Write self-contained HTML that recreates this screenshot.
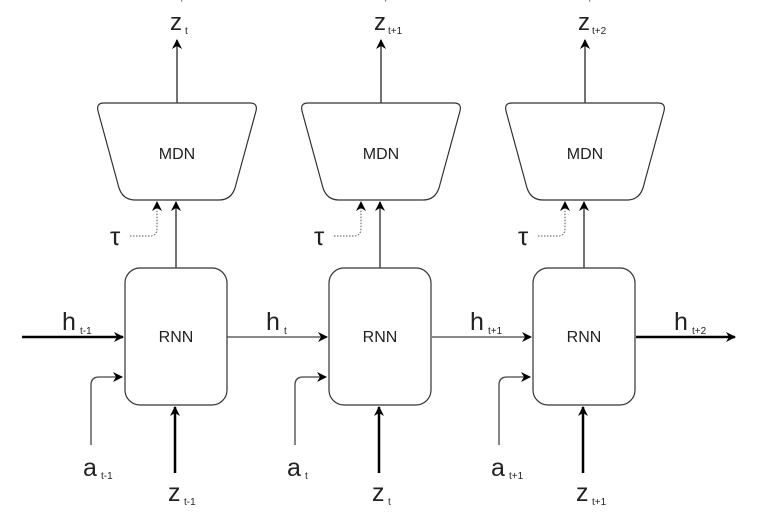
<!DOCTYPE html>
<html><head><style>body{margin:0;background:#fff}svg{display:block}text{font-family:"Liberation Sans",sans-serif;fill:#222}</style></head>
<body>
<svg width="758" height="519" viewBox="0 0 758 519" xmlns="http://www.w3.org/2000/svg">
<defs>
<marker id="ar" markerWidth="10" markerHeight="10" refX="9" refY="5" orient="auto" markerUnits="userSpaceOnUse">
<path d="M0,0 L10,5 L0,10 L3,5 Z" fill="#000"/></marker>
</defs>
<g id="c">
<path d="M104,103 L250,103 Q258,103 256,111 L235,188 Q231,200 219,200 L135,200 Q123,200 119,188 L98,111 Q96,103 104,103 Z" fill="#fff" stroke="#333" stroke-width="1.2"/>
<text x="177" y="159" font-size="16" text-anchor="middle">MDN</text>
<line x1="177" y1="103" x2="177" y2="40" stroke="#444" stroke-width="1.5" marker-end="url(#ar)"/>
<text x="170" y="30" font-size="24">z</text><text x="185" y="34" font-size="10">t</text><text x="181" y="6" font-size="8">'</text>
<rect x="125" y="268" width="102" height="137" rx="15" fill="#fff" stroke="#333" stroke-width="1.2"/>
<text x="176" y="342" font-size="16" text-anchor="middle">RNN</text>
<line x1="176" y1="268" x2="176" y2="202" stroke="#444" stroke-width="1.5" marker-end="url(#ar)"/>
<path d="M130,236 L150,236 Q157,236 157,228 L157,202" fill="none" stroke="#555" stroke-dasharray="1.5,1.5" marker-end="url(#ar)"/>
<text x="110" y="245" font-size="26">τ</text>
<path d="M91,445 L91,385 Q91,377 99,377 L122,377" fill="none" stroke="#444" stroke-width="1.3" marker-end="url(#ar)"/>
<line x1="175" y1="473" x2="175" y2="407" stroke="#000" stroke-width="2.5" marker-end="url(#ar)"/>
</g>
<use href="#c" x="204"/>
<use href="#c" x="408"/>
<line x1="22" y1="337" x2="123" y2="337" stroke="#000" stroke-width="2.5" marker-end="url(#ar)"/>
<line x1="227" y1="337" x2="327" y2="337" stroke="#444" stroke-width="1.3" marker-end="url(#ar)"/>
<line x1="432" y1="337" x2="531" y2="337" stroke="#444" stroke-width="1.3" marker-end="url(#ar)"/>
<line x1="636" y1="337" x2="735" y2="337" stroke="#000" stroke-width="2.5" marker-end="url(#ar)"/>
<rect x="387" y="22" width="30" height="16" fill="#fff"/><text x="388" y="34" font-size="10">t+1</text>
<rect x="591" y="22" width="30" height="16" fill="#fff"/><text x="592" y="34" font-size="10">t+2</text>
<text x="62" y="330" font-size="25">h</text><text x="80" y="334" font-size="10">t-1</text>
<text x="266" y="330" font-size="25">h</text><text x="284" y="334" font-size="10">t</text>
<text x="470" y="330" font-size="25">h</text><text x="488" y="334" font-size="10">t+1</text>
<text x="674" y="330" font-size="25">h</text><text x="692" y="334" font-size="10">t+2</text>
<text x="83" y="476" font-size="25">a</text><text x="101" y="479" font-size="10">t-1</text>
<text x="287" y="476" font-size="25">a</text><text x="305" y="479" font-size="10">t</text>
<text x="491" y="476" font-size="25">a</text><text x="509" y="479" font-size="10">t+1</text>
<text x="168" y="501" font-size="25">z</text><text x="184" y="505" font-size="10">t-1</text>
<text x="372" y="501" font-size="25">z</text><text x="388" y="505" font-size="10">t</text>
<text x="576" y="501" font-size="25">z</text><text x="592" y="505" font-size="10">t+1</text>
</svg>
</body></html>
